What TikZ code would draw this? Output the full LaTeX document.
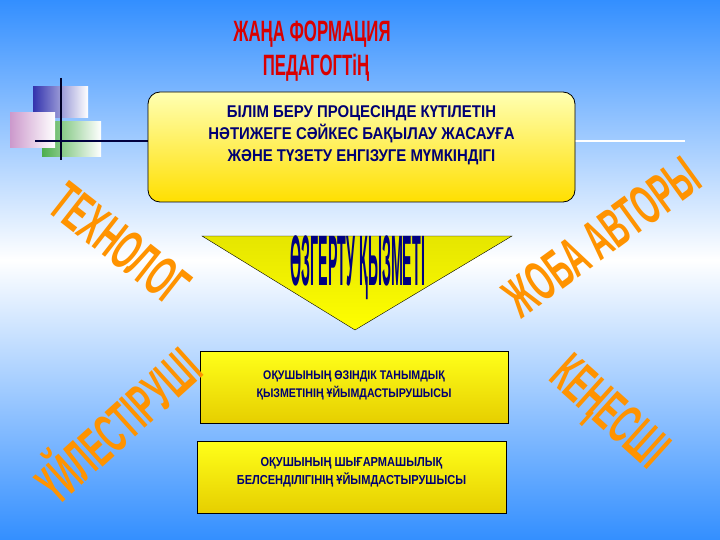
\documentclass[tikz,border=0pt]{standalone}
\usepackage{fontspec}
\setmainfont{Liberation Sans}
\newcommand{\ow}[1]{\scalebox{0.52}[1]{#1}}
\begin{document}
\begin{tikzpicture}[x=1pt,y=-1pt,
  ttl/.style={text=red!85!black,font=\bfseries\fontsize{28}{30}\selectfont,xscale=0.6,yscale=1.05},
  orng/.style={text=orange!85!yellow,font=\bfseries\fontsize{56}{58}\selectfont,inner sep=0pt},
  btxt/.style={text=blue!45!black,font=\bfseries\fontsize{17}{22}\selectfont,align=center,xscale=0.88},
  stxt/.style={text=blue!45!black,font=\bfseries\fontsize{12.5}{18}\selectfont,align=center,xscale=0.85},
  ybox/.style={draw=black,thick,top color=yellow!90!white,bottom color=yellow!80!orange!90!black}]
\shade[top color=blue!55!cyan!80!white,bottom color=white] (0,0) rectangle (720,260);
\shade[top color=white,bottom color=blue!55!cyan!80!white] (0,260) rectangle (720,540);
\useasboundingbox (0,0) rectangle (720,540);
% decoration
\shade[left color=blue!60!black!80!white,right color=white] (33,87) rectangle (88,118);
\shade[left color=green!55!black!70!white,right color=white] (42,122) rectangle (101,157);
\shade[left color=violet!40!white,right color=white] (10,113) rectangle (55,148);
\draw[line width=2pt,blue!15!black] (61,78) -- (61,160);
\draw[line width=2.5pt,black!75!blue] (35,141) -- (148,141);
\draw[line width=2.5pt,white] (575,141) -- (685,141);
% titles
\node[ttl] (t1) at (312,34) {ЖАҢА ФОРМАЦИЯ};
\node[ttl] (t2) at (316,68) {ПЕДАГОГТіҢ};
% main box
\node[ybox,rounded corners=12pt,minimum width=427,minimum height=110,
  top color=yellow!30!white,bottom color=yellow!75!orange] (m) at (361.5,147) {};
\node[btxt] (mt) at (361.5,135) {БІЛІМ БЕРУ ПРОЦЕСІНДЕ КҮТІЛЕТІН\\НӘТИЖЕГЕ СӘЙКЕС БАҚЫЛАУ ЖАСАУҒА\\ЖӘНЕ ТҮЗЕТУ ЕНГІЗУГЕ МҮМКІНДІГІ};
% triangle
\shade[draw=black,top color=yellow!80!olive,bottom color=yellow] (202,236) -- (512,236) -- (355,330) -- cycle;
\node[text=blue!50!black,font=\bfseries\fontsize{34}{36}\selectfont,xscale=0.42,yscale=2.1] (tz) at (358,268) {ӨЗГЕРТУ ҚЫЗМЕТІ};
% boxes
\node[ybox,minimum width=308,minimum height=72] (b1) at (354,387) {};
\node[stxt] (b1t) at (354,385) {ОҚУШЫНЫҢ ӨЗІНДІК ТАНЫМДЫҚ\\ҚЫЗМЕТІНІҢ ҰЙЫМДАСТЫРУШЫСЫ};
\node[ybox,minimum width=309,minimum height=72] (b2) at (351.5,477) {};
\node[stxt,font=\bfseries\fontsize{13}{18}\selectfont] (b2t) at (351.5,472) {ОҚУШЫНЫҢ ШЫҒАРМАШЫЛЫҚ\\БЕЛСЕНДІЛІГІНІҢ ҰЙЫМДАСТЫРУШЫСЫ};
% orange words
\node[orng,rotate=-38] (w1) at (120,244) {\ow{ТЕХНОЛОГ}};
\node[orng,rotate=36] (w2) at (602,237) {\ow{ЖОБА АВТОРЫ}};
\node[orng,rotate=42] (w3) at (115,422) {\ow{ҮЙЛЕСТІРУШІ}};
\node[orng,rotate=-42] (w4) at (607,415) {\ow{КЕҢЕСШІ}};
\end{tikzpicture}
\end{document}
